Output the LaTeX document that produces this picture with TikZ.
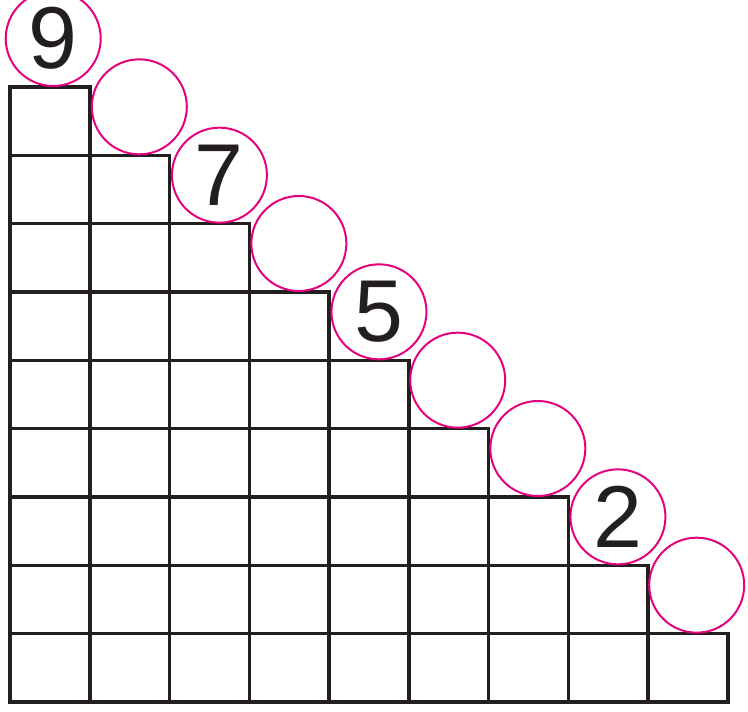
\documentclass[tikz,border=0pt]{standalone}
\usepackage{fontspec}
\setmainfont{Liberation Sans}
\usetikzlibrary{shapes,positioning}
\usepackage{xcolor}
\definecolor{inkblack}{RGB}{35,31,32}
\definecolor{ringpink}{RGB}{229,0,126}
\tikzset{
  cell/.style={draw=inkblack,line width=3pt,minimum width=2.393cm,minimum height=2.05cm,inner sep=0pt,outer sep=0pt},
  ring/.style={draw=ringpink,circle,line width=1.7pt,minimum size=2.85cm,inner sep=0pt,text=inkblack,font=\fontsize{75}{75}\selectfont}
}
\begin{document}
\begin{tikzpicture}[node distance=0pt]
\useasboundingbox (-0.3,-0.27) rectangle (22.14,21.06);
% staircase of squares
\foreach \c in {1,...,9}{
  \pgfmathtruncatemacro\h{10-\c}
  \foreach \r in {1,...,\h}{
    \node[cell](s\c-\r) at ({(\c-0.5)*2.393},{(\r-0.5)*2.05}){};
  }
}
% circles on the steps
\foreach \c/\lab/\dx in {1/9/0.1,2//0.29,3/7/0.3,4//0.29,5/5/0.3,6//0.27,7//0.28,8/2/0.29,9//0.26}{
  \pgfmathtruncatemacro\h{10-\c}
  \node[ring,above=0pt of s\c-\h,xshift=\dx cm](c\c){\lab};
}
\end{tikzpicture}
\end{document}
